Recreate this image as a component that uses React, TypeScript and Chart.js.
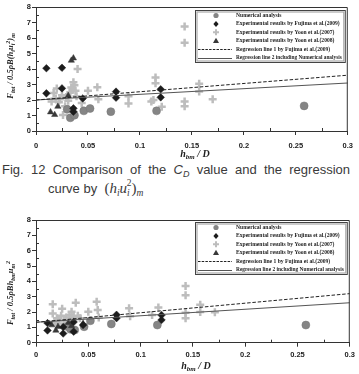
import React, { useEffect, useRef } from "react";
import { Chart, registerables } from "chart.js";
Chart.register(...registerables);

// ---------- Chart 1 (C_D by (h_i u_i^2)_m) ----------
const numX1 = [0.030, 0.033, 0.037, 0.046, 0.052, 0.072, 0.116, 0.258];
const numY1 = [1.40, 0.85, 1.02, 1.30, 1.45, 1.25, 1.30, 1.62];
const fujX1 = [0.010, 0.025, 0.010, 0.025, 0.036, 0.036, 0.045, 0.077, 0.077, 0.120, 0.120];
const fujY1 = [4.05, 4.08, 2.43, 2.75, 1.46, 1.25, 2.10, 2.54, 2.15, 2.69, 2.17];
const yoonAX1 = [0.015, 0.017, 0.019, 0.020, 0.022, 0.023, 0.025, 0.026, 0.028, 0.029, 0.031, 0.033, 0.034, 0.035, 0.036, 0.037, 0.038, 0.039, 0.040, 0.044, 0.050, 0.059, 0.060, 0.089, 0.089, 0.111, 0.113, 0.115, 0.115, 0.121, 0.143, 0.143, 0.143, 0.143, 0.157, 0.157, 0.170];
const yoonAY1 = [1.90, 2.45, 2.10, 2.75, 1.85, 2.05, 2.30, 1.03, 1.60, 2.20, 1.95, 2.50, 2.80, 2.65, 3.15, 2.95, 2.60, 2.25, 4.00, 1.80, 2.60, 2.82, 2.05, 1.78, 2.25, 1.90, 2.00, 3.45, 3.08, 1.57, 6.75, 5.70, 1.90, 1.60, 3.05, 2.55, 2.05];
const yoonBX1 = [0.014, 0.018, 0.021, 0.031, 0.034, 0.036];
const yoonBY1 = [1.22, 1.05, 1.58, 2.28, 4.55, 4.70];
const regX1 = [0, 0.3];
const regFujY1 = [2.0, 3.6];
const regNumY1 = [2.0, 3.1];

// ---------- Chart 2 (by h_bm u_m^2) ----------
const numX2 = [0.030, 0.033, 0.037, 0.046, 0.052, 0.072, 0.116, 0.258];
const numY2 = [1.05, 0.87, 0.82, 1.04, 1.43, 1.22, 1.15, 1.15];
const fujX2 = [0.011, 0.011, 0.026, 0.026, 0.036, 0.036, 0.045, 0.077, 0.077, 0.120, 0.120];
const fujY2 = [0.80, 1.28, 0.60, 1.02, 0.72, 1.35, 1.15, 1.82, 1.60, 1.80, 1.48];
const yoonAX2 = [0.016, 0.016, 0.018, 0.020, 0.022, 0.024, 0.025, 0.027, 0.029, 0.030, 0.032, 0.034, 0.035, 0.036, 0.038, 0.040, 0.042, 0.050, 0.058, 0.059, 0.060, 0.089, 0.090, 0.111, 0.117, 0.143, 0.143, 0.143, 0.143, 0.157, 0.157, 0.171];
const yoonAY2 = [2.50, 1.90, 1.35, 1.60, 1.25, 1.75, 2.22, 1.45, 1.65, 1.30, 1.80, 2.02, 1.55, 1.70, 2.60, 1.75, 1.60, 2.02, 2.67, 2.13, 1.65, 2.24, 1.72, 1.80, 2.30, 3.70, 3.10, 1.95, 1.60, 2.48, 2.00, 1.98];
const yoonBX2 = [0.015, 0.019, 0.021, 0.031, 0.034, 0.045];
const yoonBY2 = [1.15, 0.80, 1.05, 1.30, 1.10, 1.25];
const regX2 = [0, 0.3];
const regFujY2 = [1.33, 3.2];
const regNumY2 = [1.33, 2.6];

const legendLabels = [
  "Numerical analysis",
  "Experimental results by Fujima et al.(2009)",
  "Experimental results by Yoon et al.(2007)",
  "Experimental results by Yoon et al.(2008)",
  "Regression line 1 by Fujima et al.(2009)",
  "Regression line 2 including Numerical analysis",
];

const xTicks = [0, 0.05, 0.1, 0.15, 0.2, 0.25, 0.3];

const COL_NUM = "#858585";
const COL_FUJ = "#1c1c1c";
const COL_YA = "#bdbdbd";
const COL_YB = "#383838";
const COL_L1 = "#222222";
const COL_L2 = "#555555";

type Seg = { t: string; k?: "sub" | "sup" };

function drawRich(ctx: CanvasRenderingContext2D, segs: Seg[], x: number, y: number, size: number, rotate: boolean) {
  ctx.save();
  ctx.translate(x, y);
  if (rotate) ctx.rotate(-Math.PI / 2);
  const fMain = `italic bold ${size}px "Liberation Serif", serif`;
  const fSmall = `italic bold ${(size * 0.7).toFixed(2)}px "Liberation Serif", serif`;
  let w = 0;
  for (const s of segs) {
    ctx.font = s.k ? fSmall : fMain;
    w += ctx.measureText(s.t).width;
  }
  let cx = -w / 2;
  ctx.textAlign = "left";
  ctx.textBaseline = "alphabetic";
  ctx.fillStyle = "#222";
  for (const s of segs) {
    ctx.font = s.k ? fSmall : fMain;
    const dy = s.k === "sub" ? size * 0.25 : s.k === "sup" ? -size * 0.4 : 0;
    ctx.fillText(s.t, cx, size * 0.35 + dy);
    cx += ctx.measureText(s.t).width;
  }
  ctx.restore();
}

function drawSymbol(ctx: CanvasRenderingContext2D, kind: number, x: number, y: number) {
  ctx.save();
  if (kind === 0) {
    ctx.fillStyle = COL_NUM;
    ctx.beginPath();
    ctx.arc(x, y, 2.6, 0, Math.PI * 2);
    ctx.fill();
  } else if (kind === 1) {
    ctx.fillStyle = COL_FUJ;
    ctx.beginPath();
    ctx.moveTo(x, y - 3);
    ctx.lineTo(x + 2.6, y);
    ctx.lineTo(x, y + 3);
    ctx.lineTo(x - 2.6, y);
    ctx.closePath();
    ctx.fill();
  } else if (kind === 2) {
    ctx.strokeStyle = COL_YA;
    ctx.lineWidth = 2;
    ctx.beginPath();
    ctx.moveTo(x - 3, y);
    ctx.lineTo(x + 3, y);
    ctx.moveTo(x, y - 3);
    ctx.lineTo(x, y + 3);
    ctx.stroke();
  } else if (kind === 3) {
    ctx.fillStyle = COL_YB;
    ctx.beginPath();
    ctx.moveTo(x, y - 3);
    ctx.lineTo(x + 3, y + 2.2);
    ctx.lineTo(x - 3, y + 2.2);
    ctx.closePath();
    ctx.fill();
  }
  ctx.restore();
}

const decoPlugin = {
  id: "deco",
  afterDraw(chart: any, _args: any, opts: any) {
    const { ctx, chartArea: a, scales } = chart;
    ctx.save();
    // frame (top & right)
    ctx.strokeStyle = "#333";
    ctx.lineWidth = 1;
    ctx.beginPath();
    ctx.moveTo(a.left, a.top + 0.5);
    ctx.lineTo(a.right - 0.5, a.top + 0.5);
    ctx.lineTo(a.right - 0.5, a.bottom);
    ctx.stroke();
    // minor inward ticks
    ctx.beginPath();
    for (let v = 0.5; v < 8; v += 1) {
      const py = Math.round(scales.y.getPixelForValue(v)) + 0.5;
      ctx.moveTo(a.left, py);
      ctx.lineTo(a.left + 3, py);
    }
    for (let v = 0.025; v < 0.3; v += 0.05) {
      const px = Math.round(scales.x.getPixelForValue(v)) + 0.5;
      ctx.moveTo(px, a.bottom);
      ctx.lineTo(px, a.bottom - 3);
    }
    ctx.stroke();

    // legend
    const bl = a.left + 159;
    const br = a.right - 2;
    const bt = a.top + opts.legendDY;
    const bb = bt + 53;
    ctx.fillStyle = "#fff";
    ctx.fillRect(bl, bt, br - bl, bb - bt);
    ctx.strokeStyle = "#444";
    ctx.lineWidth = 1;
    ctx.strokeRect(bl + 0.5, bt + 0.5, br - bl - 1, bb - bt - 1);
    ctx.strokeStyle = "#aaa";
    ctx.lineWidth = 1.2;
    ctx.strokeRect(bl + 2, bt + 2, br - bl - 4, bb - bt - 4);
    for (let i = 0; i < 6; i++) {
      const ry = bt + 5.5 + i * 8.4;
      if (i < 4) drawSymbol(ctx, i, bl + 21, ry);
      else {
        ctx.save();
        ctx.strokeStyle = i === 4 ? COL_L1 : COL_L2;
        ctx.lineWidth = 1;
        ctx.setLineDash(i === 4 ? [2.5, 1.2] : []);
        ctx.beginPath();
        ctx.moveTo(bl + 3, Math.round(ry) + 0.5);
        ctx.lineTo(bl + 37, Math.round(ry) + 0.5);
        ctx.stroke();
        ctx.restore();
      }
      ctx.fillStyle = "#222";
      ctx.font = 'bold 5.6px "Liberation Serif", serif';
      ctx.textAlign = "left";
      ctx.textBaseline = "middle";
      ctx.fillText(legendLabels[i], bl + 41, ry, br - bl - 45);
    }

    // axis titles
    const cxMid = (a.left + a.right) / 2 + 3;
    drawRich(ctx, opts.xTitle, cxMid, opts.xTitleY, 10, false);
    drawRich(ctx, opts.yTitle, opts.yTitleX, opts.yTitleY, 8.5, true);
    ctx.restore();
  },
};

function pts(xs: number[], ys: number[]) {
  return xs.map((x, i) => ({ x, y: ys[i] }));
}

function makeConfig(p: any): any {
  const tickFont = { family: '"Liberation Sans", Arial, sans-serif', size: 7.5, weight: "bold" as const };
  return {
    type: "scatter",
    data: {
      datasets: [
        { label: "l1", type: "line", data: pts(p.regX, p.regFujY), borderColor: COL_L1, borderWidth: 1, borderDash: [3.5, 1.8], pointRadius: 0, fill: false, order: 0 },
        { label: "l2", type: "line", data: pts(p.regX, p.regNumY), borderColor: COL_L2, borderWidth: 1.1, pointRadius: 0, fill: false, order: 1 },
        { label: legendLabels[1], data: pts(p.fujX, p.fujY), pointStyle: "rectRot", pointRadius: 3.8, backgroundColor: COL_FUJ, borderColor: COL_FUJ, borderWidth: 0.5, order: 2 },
        { label: legendLabels[3], data: pts(p.ybX, p.ybY), pointStyle: "triangle", pointRadius: 3.6, backgroundColor: COL_YB, borderColor: COL_YB, borderWidth: 0.5, order: 3 },
        { label: legendLabels[0], data: pts(p.numX, p.numY), pointStyle: "circle", pointRadius: 4, backgroundColor: COL_NUM, borderColor: "#777", borderWidth: 0.5, order: 4 },
        { label: legendLabels[2], data: pts(p.yaX, p.yaY), pointStyle: "cross", pointRadius: 4, backgroundColor: COL_YA, borderColor: COL_YA, borderWidth: 2.5, order: 5 },
      ],
    },
    options: {
      responsive: false,
      animation: false,
      devicePixelRatio: 1,
      layout: { padding: { left: 0, right: 7, top: p.padTop, bottom: 0 } },
      plugins: {
        legend: { display: false },
        tooltip: { enabled: false },
        title: { display: false },
        deco: { xTitle: p.xTitle, yTitle: p.yTitle, xTitleY: p.xTitleY, yTitleX: 10, yTitleY: p.yTitleY, legendDY: p.legendDY },
      },
      scales: {
        x: {
          type: "linear",
          min: 0,
          max: 0.3,
          afterFit: (s: any) => { s.height = p.xh; },
          afterBuildTicks: (s: any) => { s.ticks = xTicks.map((v) => ({ value: v })); },
          ticks: {
            font: tickFont,
            color: "#222",
            padding: p.xPad,
            maxRotation: 0,
            autoSkip: false,
            callback: (v: any) => String(Number(Number(v).toFixed(3))),
          },
          grid: { drawOnChartArea: false, drawTicks: true, tickLength: 4, color: "#333" },
          border: { display: true, color: "#333", width: 1 },
        },
        y: {
          type: "linear",
          min: 0,
          max: 8,
          afterFit: (s: any) => { s.width = 36; },
          ticks: { stepSize: 1, font: tickFont, color: "#222", padding: 1 },
          grid: { drawOnChartArea: false, drawTicks: true, tickLength: 4, color: "#333" },
          border: { display: true, color: "#333", width: 1 },
        },
      },
    },
    plugins: [decoPlugin],
  };
}

const yTitle1: Seg[] = [
  { t: "F" }, { t: "int", k: "sub" }, { t: " / 0.5" }, { t: "ρB(h" }, { t: "i", k: "sub" }, { t: "u" }, { t: "i", k: "sub" }, { t: "2", k: "sup" }, { t: ")" }, { t: "m", k: "sub" },
];
const yTitle2: Seg[] = [
  { t: "F" }, { t: "int", k: "sub" }, { t: " / 0.5" }, { t: "ρBh" }, { t: "bm", k: "sub" }, { t: "u" }, { t: "m", k: "sub" }, { t: "2", k: "sup" },
];
const xTitle: Seg[] = [{ t: "h" }, { t: "bm", k: "sub" }, { t: " / D" }];

export default function App() {
  const c1 = useRef<HTMLCanvasElement>(null);
  const c2 = useRef<HTMLCanvasElement>(null);
  useEffect(() => {
    document.body.style.margin = "0";
    const ch1 = new Chart(c1.current as HTMLCanvasElement, makeConfig({
      numX: numX1, numY: numY1, fujX: fujX1, fujY: fujY1, yaX: yoonAX1, yaY: yoonAY1, ybX: yoonBX1, ybY: yoonBY1,
      regX: regX1, regFujY: regFujY1, regNumY: regNumY1,
      padTop: 7, xh: 31, xPad: 6, xTitle, yTitle: yTitle1, xTitleY: 153, yTitleY: 66, legendDY: 3,
    }));
    const ch2 = new Chart(c2.current as HTMLCanvasElement, makeConfig({
      numX: numX2, numY: numY2, fujX: fujX2, fujY: fujY2, yaX: yoonAX2, yaY: yoonAY2, ybX: yoonBX2, ybY: yoonBY2,
      regX: regX2, regFujY: regFujY2, regNumY: regNumY2,
      padTop: 15, xh: 31.3, xPad: 4, xTitle, yTitle: yTitle2, xTitleY: 160, yTitleY: 88, legendDY: 2,
    }));
    return () => {
      ch1.destroy();
      ch2.destroy();
    };
  }, []);

  const capFont = '13px "Liberation Sans", Arial, sans-serif';
  const mathFont = '"Liberation Serif", "Times New Roman", serif';
  return (
    <div style={{ position: "relative", width: 359, height: 374, background: "#fff", overflow: "hidden" }}>
      <canvas ref={c1} width={359} height={162} style={{ position: "absolute", left: 0, top: 0, width: 359, height: 162 }} />
      <div style={{ position: "absolute", left: 2, top: 162, width: 348, font: capFont, lineHeight: "15px", color: "#3a3a3a", textAlign: "justify", textAlignLast: "justify" as any }}>
        Fig. 12 Comparison of the <i>C</i><sub style={{ fontSize: 9, verticalAlign: "-3px", lineHeight: 0 }}><i>D</i></sub> value and the regression
      </div>
      <div style={{ position: "absolute", left: 48, top: 181, font: capFont, lineHeight: "15px", color: "#3a3a3a", whiteSpace: "nowrap" }}>
        curve by&nbsp;{" "}
        <span style={{ fontFamily: mathFont, fontSize: 15 }}>
          (<i>h</i><sub style={{ fontSize: 9.5, verticalAlign: "-3px", lineHeight: 0 }}><i>i</i></sub><i>u</i>
          <sub style={{ fontSize: 9.5, verticalAlign: "-3px", lineHeight: 0 }}><i>i</i></sub>
          <sup style={{ fontSize: 9.5, verticalAlign: "7px", lineHeight: 0, marginLeft: -3 }}>2</sup>)
          <sub style={{ fontSize: 9.5, verticalAlign: "-3px", lineHeight: 0 }}><i>m</i></sub>
        </span>
      </div>
      <canvas ref={c2} width={359} height={169} style={{ position: "absolute", left: 0, top: 205, width: 359, height: 169 }} />
    </div>
  );
}
